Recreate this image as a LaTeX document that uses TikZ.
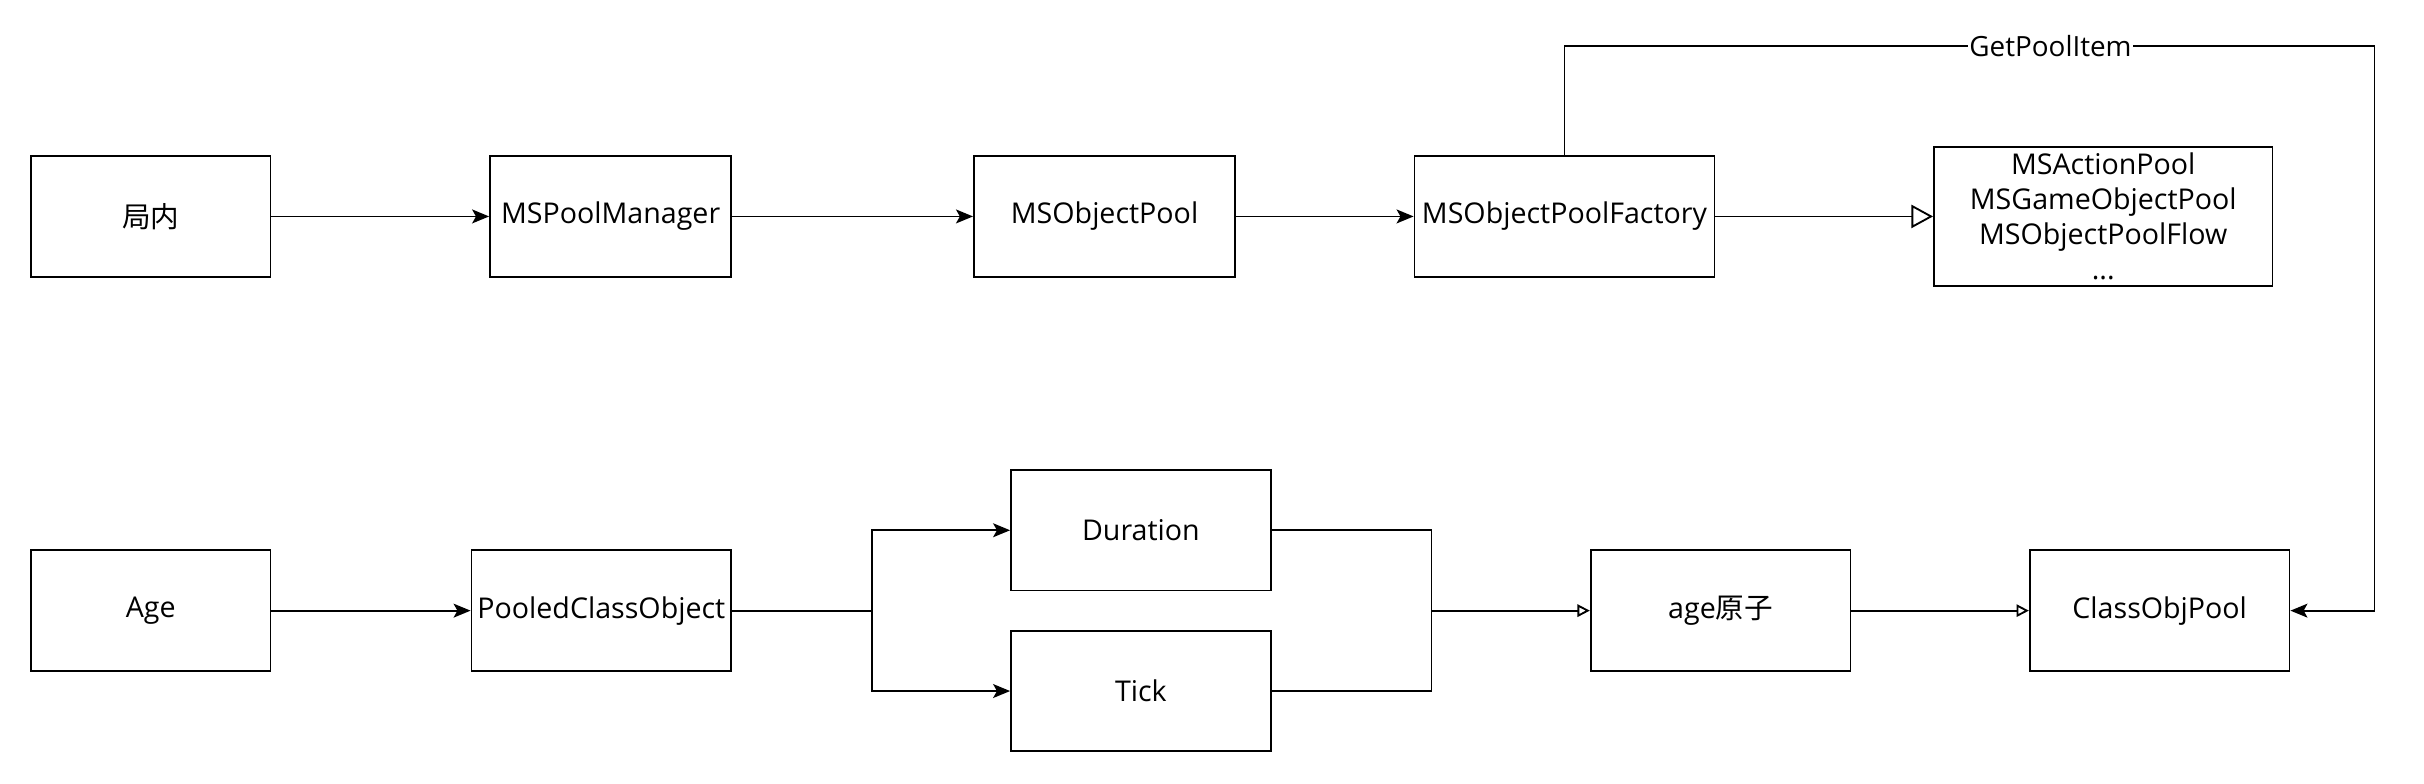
\documentclass[tikz,border=0pt]{standalone}
\usepackage{fontspec}
\setmainfont{Open Sans}
\newfontfamily\cjk{Noto Sans CJK SC}
\usetikzlibrary{arrows.meta}

\begin{document}
\begin{tikzpicture}[
        x=1pt, y=-1pt,
        box/.style={draw, rectangle, line width=1.2pt, minimum width=155pt, minimum height=78pt,
            inner sep=1pt, font=\fontsize{18.5}{22.5}\selectfont},
        wide/.style={box, minimum width=168pt},
        flow/.style={draw, line width=1.2pt, -{Stealth[length=11pt,width=9pt,inset=2.5pt]}},
        link/.style={draw, line width=1.2pt},
        inherit/.style={draw, line width=1.2pt, -{Triangle[open,length=8pt,width=8pt]}},
        realize/.style={draw, line width=1.2pt, -{Triangle[open,length=14pt,width=15pt]}},
    ]
    \useasboundingbox (0,0) rectangle (1568,507);

    % top row
    \node[box](ju) at (97.5,140){\cjk 局内};
    \node[box, minimum width=156pt](mgr) at (395,140){MSPoolManager};
    \node[box, minimum width=169pt](objpool) at (714.5,140){MSObjectPool};
    \node[box, minimum width=194pt](factory) at (1012,140){MSObjectPoolFactory};
    \node[box, minimum width=219pt, minimum height=90pt, align=center](subpools) at (1360.5,140)
        {MSActionPool\\MSGameObjectPool\\MSObjectPoolFlow\\...};

    % bottom row
    \node[box](age) at (97.5,395){Age};
    \node[wide](pooled) at (389,395){PooledClassObject};
    \node[wide](duration) at (738,343){Duration};
    \node[wide](tick) at (738,447){Tick};
    \node[wide](atom) at (1113,395){age{\cjk 原子}};
    \node[wide](classpool) at (1397,395){ClassObjPool};

    \coordinate (split) at (564,395);
    \coordinate (join) at (926,395);
    \coordinate (turn) at (1536,30);

    \draw[flow] (ju) -- (mgr);
    \draw[flow] (mgr) -- (objpool);
    \draw[flow] (objpool) -- (factory);
    \draw[realize] (factory) -- (subpools);
    \draw[flow] (factory.north) -- (factory.north |- turn)
        -- node[pos=0.6, fill=white, inner sep=1pt, font=\fontsize{18}{20}\selectfont]{GetPoolItem} (turn)
        |- (classpool.east);

    \draw[flow] (age) -- (pooled);
    \draw[link] (pooled) -- (split);
    \draw[flow] (split) |- (duration);
    \draw[flow] (split) |- (tick);
    \draw[link] (duration) -| (join);
    \draw[link] (tick) -| (join);
    \draw[inherit] (join) -- (atom);
    \draw[inherit] (atom) -- (classpool);

\end{tikzpicture}
\end{document}
